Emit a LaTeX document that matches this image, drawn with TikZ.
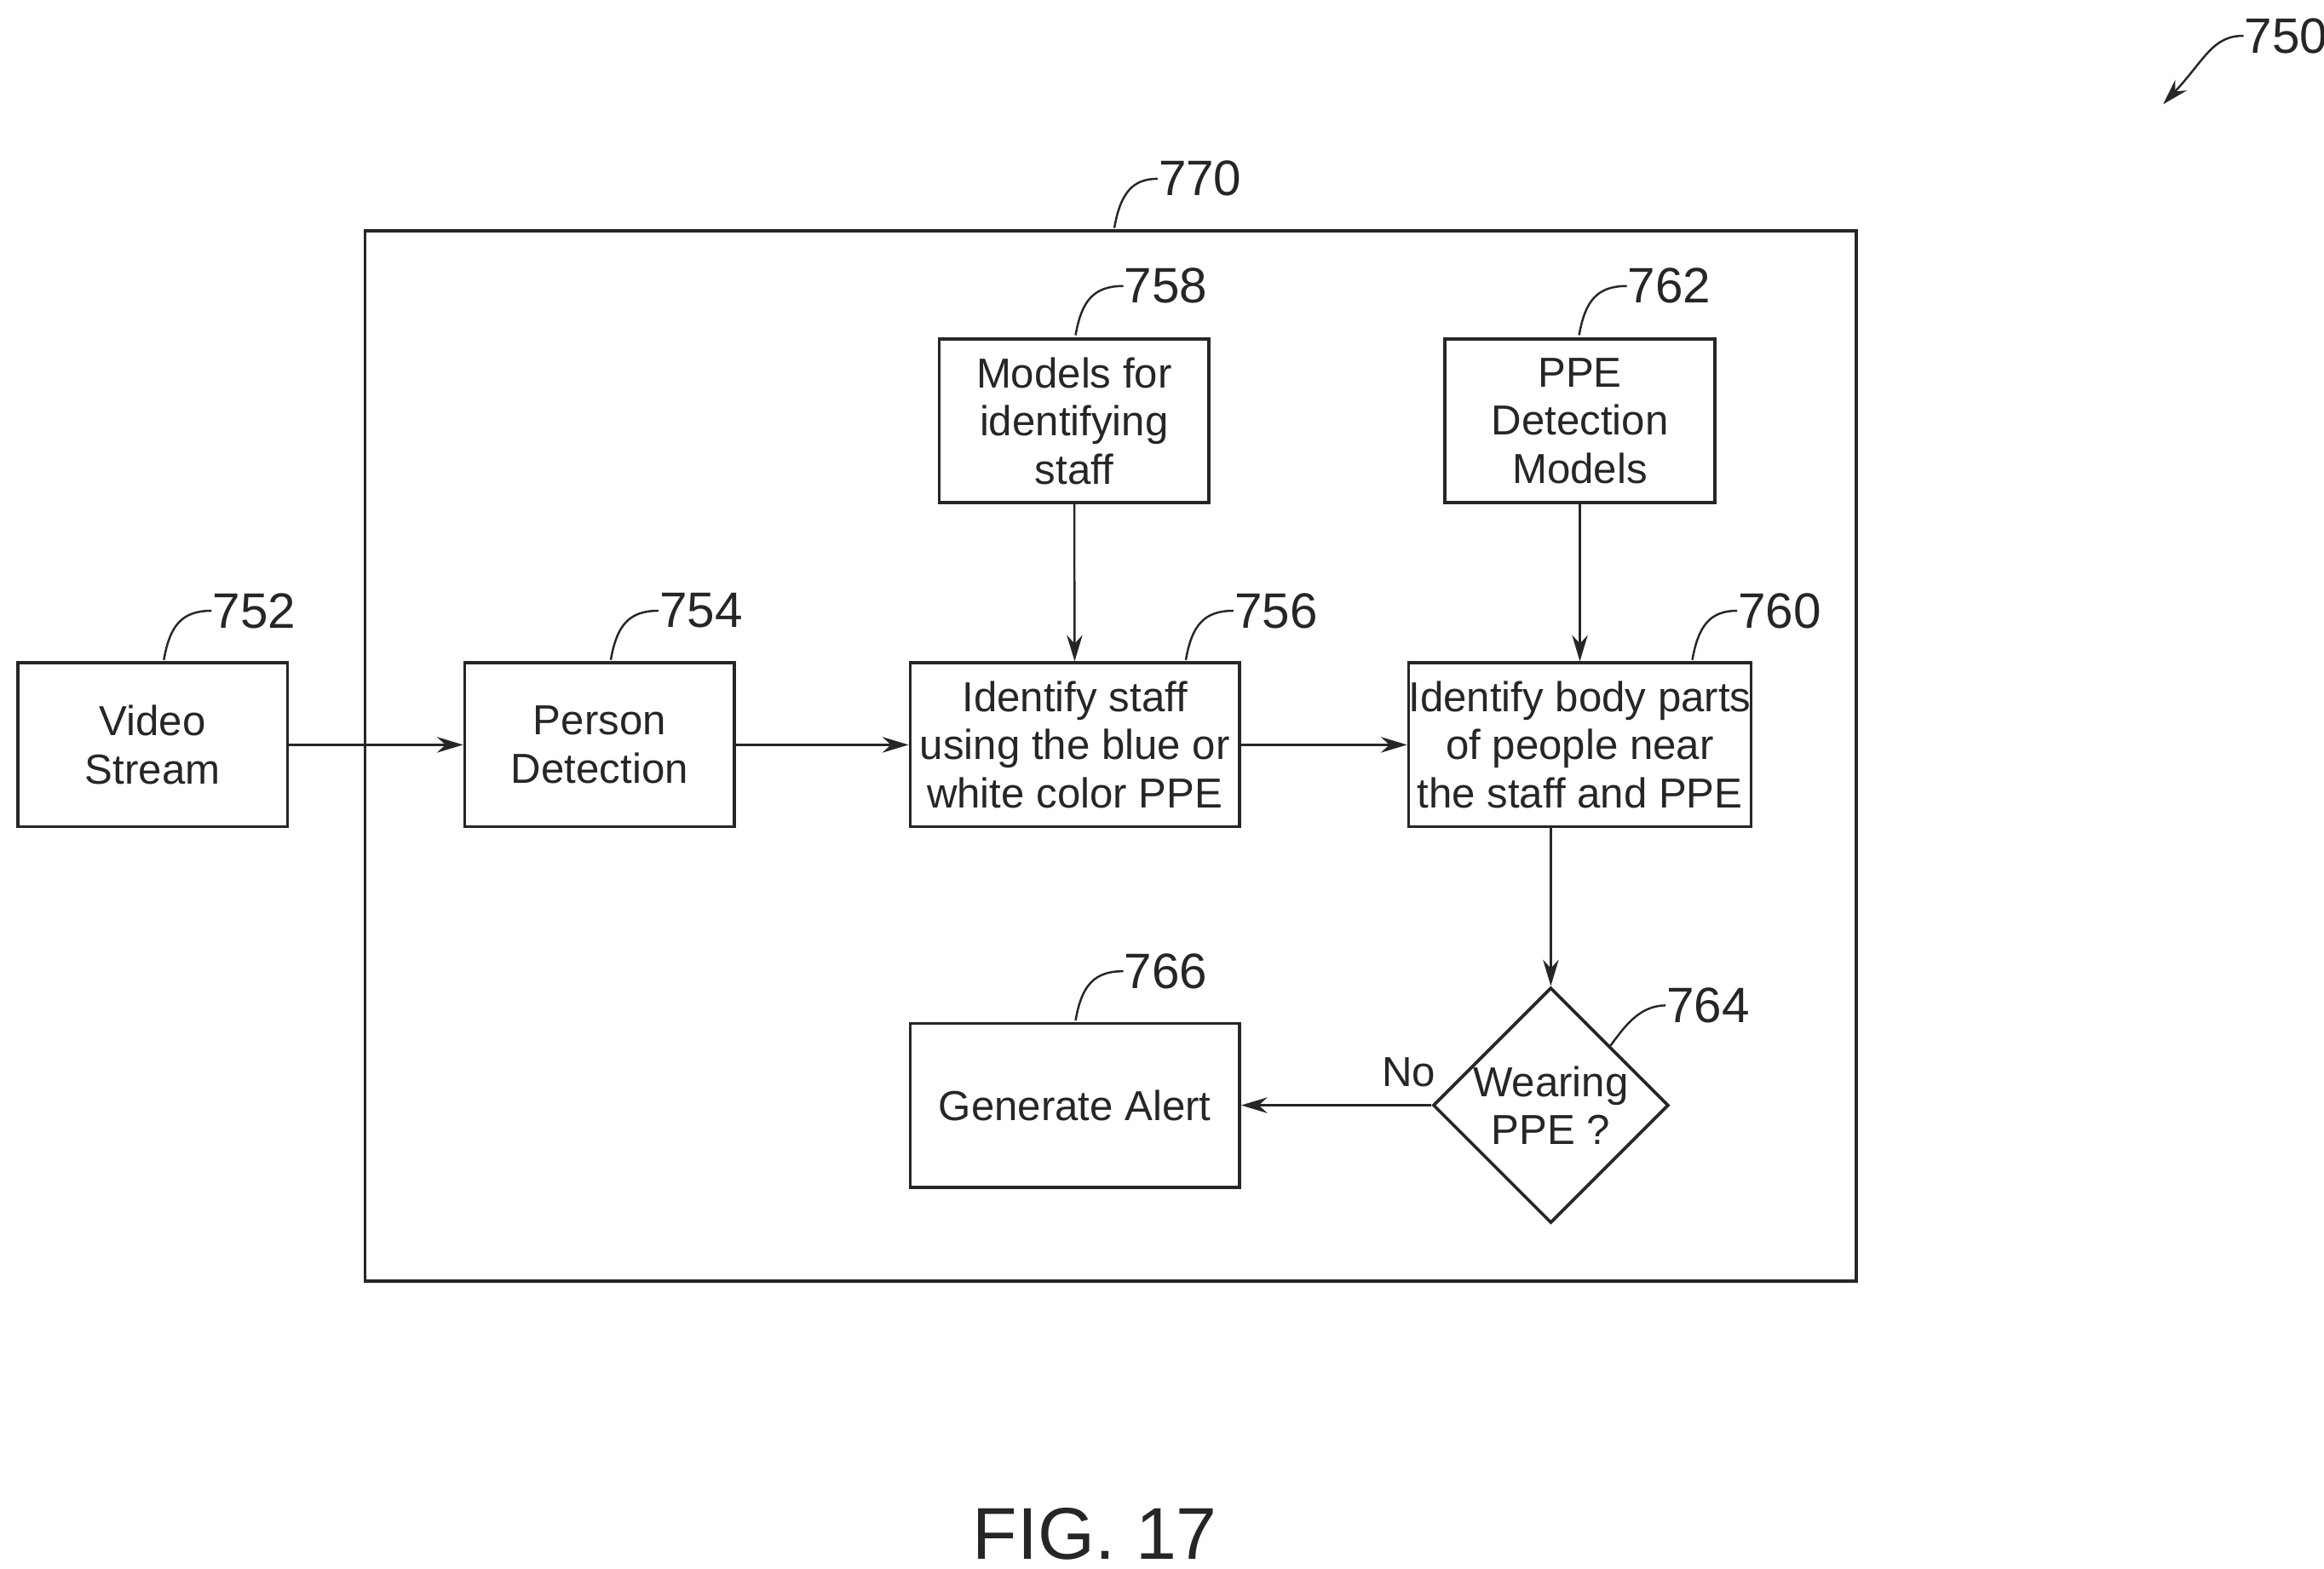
\documentclass[tikz,border=0pt]{standalone}
\usepackage{fontspec}
\setmainfont{Liberation Sans}
\usetikzlibrary{arrows.meta,positioning,shapes.geometric}

\begin{document}
\begin{tikzpicture}[x=0.01cm,y=-0.01cm,
    box/.style={draw,semithick,minimum width=1.81cm,minimum height=1.1cm,inner sep=0pt,
      align=center,font=\fontsize{8}{9.2}\selectfont},
    wide/.style={box,minimum width=2.21cm},
    arr/.style={-{Stealth[length=5pt,width=3pt]}},
    lead/.style={thin},
    num/.style={font=\fontsize{9.5}{11}\selectfont,inner sep=0pt,anchor=west}]
  \useasboundingbox (0,0) rectangle (1560,1053);
  \color{black!85}

  % outer frame
  \draw[semithick] (245,155) rectangle (1246,860);

  % blocks
  \node[box] (video) at (102.5,500) {Video\\Stream};
  \node[box] (person) at (402.5,500) {Person\\Detection};
  \node[wide] (staff) at (721.5,500) {Identify staff\\using the blue or\\white color PPE};
  \node[box] (models) at (721,282.5) {Models for\\identifying\\staff};
  \node[box] (ppe) at (1060.5,282.5) {PPE\\Detection\\Models};
  \node[wide] (body) at (1060.5,500) {Identify body parts\\of people near\\the staff and PPE};
  \node[wide] (alert) at (721.5,742) {Generate Alert};
  \node[diamond,draw,semithick,minimum width=1.58cm,minimum height=1.58cm,inner sep=0pt,
    align=center,font=\fontsize{8}{9.2}\selectfont] (wear) at (1041,742) {Wearing\\PPE ?};

  % connectors
  \draw[arr] (video) -- (person);
  \draw[arr] (person) -- (staff);
  \draw[arr] (staff) -- (body);
  \draw[arr] (models) -- (staff);
  \draw[arr] (ppe) -- (body);
  \draw[arr] (body.south -| wear.north) -- (wear.north);
  \draw[arr] (wear.west) -- node[above,pos=0.12,font=\fontsize{8}{9.2}\selectfont] {No} (alert.east);

  % reference numerals
  \node[num] (n770) at (777,120) {770};
  \node[num] (n752) at (142,410) {752};
  \node[num] (n754) at (442,410) {754};
  \node[num] (n756) at (828,410) {756};
  \node[num] (n758) at (754,192) {758};
  \node[num] (n762) at (1092,192) {762};
  \node[num] (n760) at (1166,410) {760};
  \node[num] (n766) at (754,652) {766};
  \node[num] (n764) at (1118,675) {764};
  \node[num] (n750) at (1506,24) {750};
  \node[font=\fontsize{14}{17}\selectfont] (fig) at (735,1030) {FIG. 17};

  \draw[lead] (748,153) .. controls (752,130) and (760,120) .. (n770.west);
  \draw[lead] (110,443) .. controls (114,420) and (122,410) .. (n752.west);
  \draw[lead] (410,443) .. controls (414,420) and (422,410) .. (n754.west);
  \draw[lead] (796,443) .. controls (800,420) and (808,410) .. (n756.west);
  \draw[lead] (722,225) .. controls (726,202) and (734,192) .. (n758.west);
  \draw[lead] (1060,225) .. controls (1064,202) and (1072,192) .. (n762.west);
  \draw[lead] (1136,443) .. controls (1140,420) and (1148,410) .. (n760.west);
  \draw[lead] (722,685) .. controls (726,662) and (734,652) .. (n766.west);
  \draw[lead] (1081,702) .. controls (1090,690) and (1100,675) .. (n764.west);
  \draw[arr,lead] (n750.west) .. controls (1485,24) and (1480,40) .. (1452,70);
\end{tikzpicture}
\end{document}
